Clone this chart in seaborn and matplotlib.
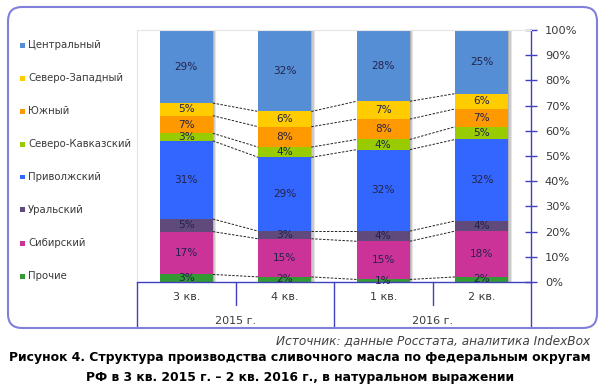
import numpy as np
import pandas as pd
import matplotlib.pyplot as plt
import seaborn as sns
from matplotlib.patches import FancyBboxPatch, Rectangle

# === Данные (доли, % от общего объема) ===
quarters = ["3 кв.", "4 кв.", "1 кв.", "2 кв."]
years = ["2015 г.", "2016 г."]

# снизу вверх
prochie = [3, 2, 1, 2]
sibir = [17, 15, 15, 18]
ural = [5, 3, 4, 4]
privol = [31, 29, 32, 32]
sev_kav = [3, 4, 4, 5]
yuzh = [7, 8, 8, 7]
sev_zap = [5, 6, 7, 6]
tsentr = [29, 32, 28, 25]

regions = ["Прочие", "Сибирский", "Уральский", "Приволжский",
           "Северо-Кавказский", "Южный", "Северо-Западный", "Центральный"]
palette = ["#339933", "#CC3399", "#604A7B", "#3366FF",
           "#99CC00", "#FF9900", "#FFCC00", "#558ED5"]

df = pd.DataFrame(dict(zip(regions, [prochie, sibir, ural, privol,
                                     sev_kav, yuzh, sev_zap, tsentr])),
                  index=quarters)
shares = df.div(df.sum(axis=1), axis=0) * 100
cum = shares.cumsum(axis=1)

axis_col = "#3F3FC0"
text_col = "#3a3a3a"
W, H = 600, 390

sns.set_style("white")
plt.rcParams["font.family"] = ["DejaVu Sans"]

fig = plt.figure(figsize=(W / 100, H / 100), dpi=100)
ax = fig.add_axes([137 / W, 1 - 282 / H, (531 - 137) / W, (282 - 30) / H])

bar_w = 0.54
xpos = np.arange(len(quarters))

# 0. Тень справа от столбцов
total = cum[regions[-1]].values
for off, a in [(0.035, 0.25), (0.022, 0.35), (0.01, 0.45)]:
    sns.barplot(x=xpos + off, y=total, color="#9a9a9a", alpha=a, width=bar_w,
                saturation=1, linewidth=0, ax=ax, native_scale=True)

# 1. Столбцы: накопленные суммы, рисуем сверху вниз (перекрытие)
for name, col in zip(reversed(regions), reversed(palette)):
    sns.barplot(x=xpos, y=cum[name].values, color=col, width=bar_w,
                saturation=1, linewidth=0, ax=ax, native_scale=True)

# 2. Подписи внутри сегментов
for name in regions:
    mid = cum[name] - shares[name] / 2
    for i, q in enumerate(quarters):
        ax.text(i, mid[q], f"{df.loc[q, name]}%", ha="center", va="center",
                fontsize=7.6, color="#23234a")

# 3. Линии рядов (пунктир между столбцами)
for name in regions:
    for i in range(len(quarters) - 1):
        ax.plot([i + bar_w / 2, i + 1 - bar_w / 2],
                [cum[name].iloc[i], cum[name].iloc[i + 1]],
                ls=(0, (2.5, 1.5)), color="#222222", lw=0.7)

ax.set_xlim(-0.5, len(quarters) - 0.5)
ax.set_ylim(0, 100)

# 4. Оси
ax.yaxis.tick_right()
ax.set_yticks(range(0, 101, 10))
ax.set_yticklabels([f"{v}%" for v in range(0, 101, 10)], fontsize=8.2, color=text_col)
ax.tick_params(axis="y", direction="inout", length=8, width=1, color=axis_col, pad=6)
ax.set_xticks([])
ax.set_xlabel("")
ax.set_ylabel("")
for s in ["top", "left"]:
    ax.spines[s].set_color("#e6e6e6")
    ax.spines[s].set_linewidth(0.8)
for s in ["right", "bottom"]:
    ax.spines[s].set_color(axis_col)
    ax.spines[s].set_linewidth(1.0)

# 5. Многоуровневые подписи категорий
tr = ax.get_xaxis_transform()
ax_h = 282 - 30
for i, q in enumerate(quarters):
    ax.text(i, -15 / ax_h, q, transform=tr, ha="center", va="center",
            fontsize=8, color=text_col)
for j, y in enumerate(years):
    ax.text(2 * j + 0.5, -39 / ax_h, y, transform=tr, ha="center", va="center",
            fontsize=8, color=text_col)
for x in [-0.5, 1.5, 3.5]:
    ax.plot([x, x], [0, -46 / ax_h], transform=tr, color=axis_col, lw=1, clip_on=False)
for x in [0.5, 2.5]:
    ax.plot([x, x], [0, -23 / ax_h], transform=tr, color=axis_col, lw=1, clip_on=False)

# 6. Легенда слева (сверху вниз)
for k, (name, col) in enumerate(zip(reversed(regions), reversed(palette))):
    yp = 45 + k * 33
    fig.add_artist(Rectangle((20 / W, 1 - (yp + 2.5) / H), 5 / W, 5 / H,
                             transform=fig.transFigure, color=col, lw=0))
    fig.text(28 / W, 1 - yp / H, name, ha="left", va="center",
             fontsize=7.3, color=text_col)

# 7. Рамка
fig.patches.append(FancyBboxPatch((8, H - 328), 589, 321,
                                  boxstyle="round,pad=0,rounding_size=14",
                                  transform=None, fill=False,
                                  edgecolor="#8080DA", lw=1.5))

# 8. Источник и заголовок
fig.text(590 / W, 1 - 341 / H, "Источник: данные Росстата, аналитика IndexBox",
         ha="right", va="center", fontsize=8.7, style="italic", color="#404040")
fig.text(0.5, 1 - 358 / H,
         "Рисунок 4. Структура производства сливочного масла по федеральным округам",
         ha="center", va="center", fontsize=8.9, fontweight="bold", color="black")
fig.text(0.5, 1 - 378 / H,
         "РФ в 3 кв. 2015 г. – 2 кв. 2016 г., в натуральном выражении",
         ha="center", va="center", fontsize=8.9, fontweight="bold", color="black")

fig.savefig("out.png", dpi=100)
